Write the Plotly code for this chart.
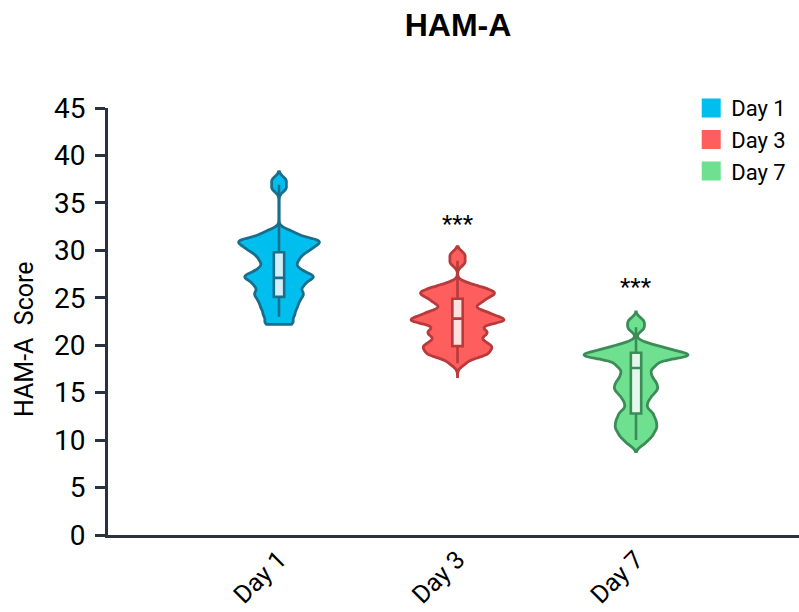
import plotly.graph_objects as go

categories = ["Day 1", "Day 3", "Day 7"]

day1_scores = [22.20, 22.44, 23.09, 23.32, 23.94, 24.01, 24.65, 24.65, 25.14, 25.45, 25.45, 25.86,
               26.35, 26.35, 26.57, 27.18, 27.18, 27.18, 27.18, 27.61, 28.02, 28.02, 28.65, 28.88,
               29.29, 29.51, 29.86, 29.97, 30.38, 30.38, 30.38, 30.93, 31.04, 31.04, 31.04, 31.04,
               31.79, 31.91, 36.54, 37.39]
day3_scores = [18.12, 18.96, 18.96, 18.96, 19.32, 19.75, 19.75, 19.75, 20.08, 20.42, 20.42, 20.91,
               21.32, 21.32, 21.32, 21.78, 22.04, 22.57, 22.64, 22.64, 22.65, 22.66, 22.71, 23.36,
               23.36, 23.36, 23.68, 24.40, 24.40, 24.80, 24.95, 25.41, 25.44, 25.46, 25.53, 26.00,
               26.00, 26.37, 28.69, 29.53]
day7_scores = [9.68, 10.29, 10.60, 11.03, 11.34, 11.57, 12.11, 12.11, 12.76, 12.91, 13.60, 14.19,
               14.67, 15.03, 15.48, 15.48, 16.11, 16.11, 16.70, 17.05, 17.59, 18.04, 18.04, 18.76,
               18.94, 18.94, 18.94, 18.94, 18.94, 18.94, 19.61, 19.61, 19.61, 20.10, 21.78, 22.54]

# box summaries
box_q1 = [25.1, 19.9, 12.8]
box_median = [27.1, 22.8, 17.6]
box_q3 = [29.8, 24.9, 19.2]
box_low = [23.0, 18.1, 10.0]
box_high = [36.9, 28.9, 21.9]

# extent of each violin outline
span_low = [22.2, 16.7, 8.8]
span_high = [38.3, 30.4, 23.5]

sig_labels = ["", "***", "***"]
sig_y = [None, 32.8, 26.1]

fill_colors = ["#00BFEF", "#FF5E5E", "#6EE090"]
line_colors = ["#1A6E8C", "#B83A3A", "#3B8C57"]
box_fills = ["#D6EEF9", "#FCE1E1", "#E3F8EA"]
violin_widths = [0.453, 0.521, 0.583]

all_scores = [day1_scores, day3_scores, day7_scores]

fig = go.Figure()

for i, cat in enumerate(categories):
    ys = all_scores[i]
    fig.add_trace(go.Violin(
        x=[cat] * len(ys), y=ys, name=cat,
        fillcolor=fill_colors[i], line=dict(color=line_colors[i], width=2.8),
        points=False, box_visible=False, meanline_visible=False,
        bandwidth=0.4, spanmode="manual", span=[span_low[i], span_high[i]],
        scalemode="width", width=violin_widths[i],
        showlegend=False, opacity=1,
    ))

for i, cat in enumerate(categories):
    fig.add_trace(go.Box(
        x=[cat], q1=[box_q1[i]], median=[box_median[i]], q3=[box_q3[i]],
        lowerfence=[box_low[i]], upperfence=[box_high[i]],
        fillcolor=box_fills[i], line=dict(color=line_colors[i], width=2.6),
        width=0.058, whiskerwidth=0, boxpoints=False, showlegend=False, name=cat,
    ))

for i, cat in enumerate(categories):
    fig.add_trace(go.Scatter(
        x=[None], y=[None], mode="markers", name=cat,
        marker=dict(symbol="square", size=16, color=fill_colors[i],
                    line=dict(color=fill_colors[i], width=3)),
        showlegend=True,
    ))

for i, cat in enumerate(categories):
    if sig_labels[i]:
        fig.add_annotation(x=cat, y=sig_y[i], text=sig_labels[i], showarrow=False,
                           font=dict(family="Roboto", size=24, color="black"),
                           xanchor="center", yanchor="middle")

axis_color = "#29333F"

fig.add_annotation(
    text="HAM-A\u00a0 Score", textangle=-90, showarrow=False,
    xref="paper", yref="paper", x=(24 - 108) / 691, y=(535 - 339) / 427,
    xanchor="center", yanchor="middle",
    font=dict(family="Roboto", size=25, color="black"),
)

fig.update_layout(
    width=799, height=612,
    margin=dict(l=108, r=0, t=108, b=77, autoexpand=False),
    paper_bgcolor="white", plot_bgcolor="white",
    violinmode="overlay", boxmode="overlay",
    title=dict(text="HAM-A", x=458 / 799, xref="container", xanchor="center",
               y=1 - 25 / 612, yref="container", yanchor="middle",
               font=dict(family="Liberation Sans, Arial", size=32, color="black", weight="bold")),
    legend=dict(x=0.844, y=1.049, xanchor="left", yanchor="top",
                font=dict(family="Roboto", size=22, color="black"),
                bgcolor="rgba(0,0,0,0)", borderwidth=0, tracegroupgap=0),
    xaxis=dict(type="category", categoryorder="array", categoryarray=categories,
               range=[-0.958, 2.913], showline=True, linecolor=axis_color, linewidth=3,
               ticks="", tickangle=-45, showgrid=False, zeroline=False, ticklabelstandoff=-3,
               automargin=False,
               tickfont=dict(family="Roboto", size=25, color="black")),
    yaxis=dict(range=[0, 45], dtick=5, tick0=0, showline=True, linecolor=axis_color,
               linewidth=3, ticks="outside", ticklen=10, tickwidth=3, tickcolor=axis_color,
               showgrid=False, zeroline=False, ticklabelstandoff=4, automargin=False,
               tickfont=dict(family="Roboto", size=28, color="black")),
)

fig.write_html("out.html", config={"displayModeBar": False},
               post_script="document.body.style.margin='0';document.body.style.overflow='hidden';")
